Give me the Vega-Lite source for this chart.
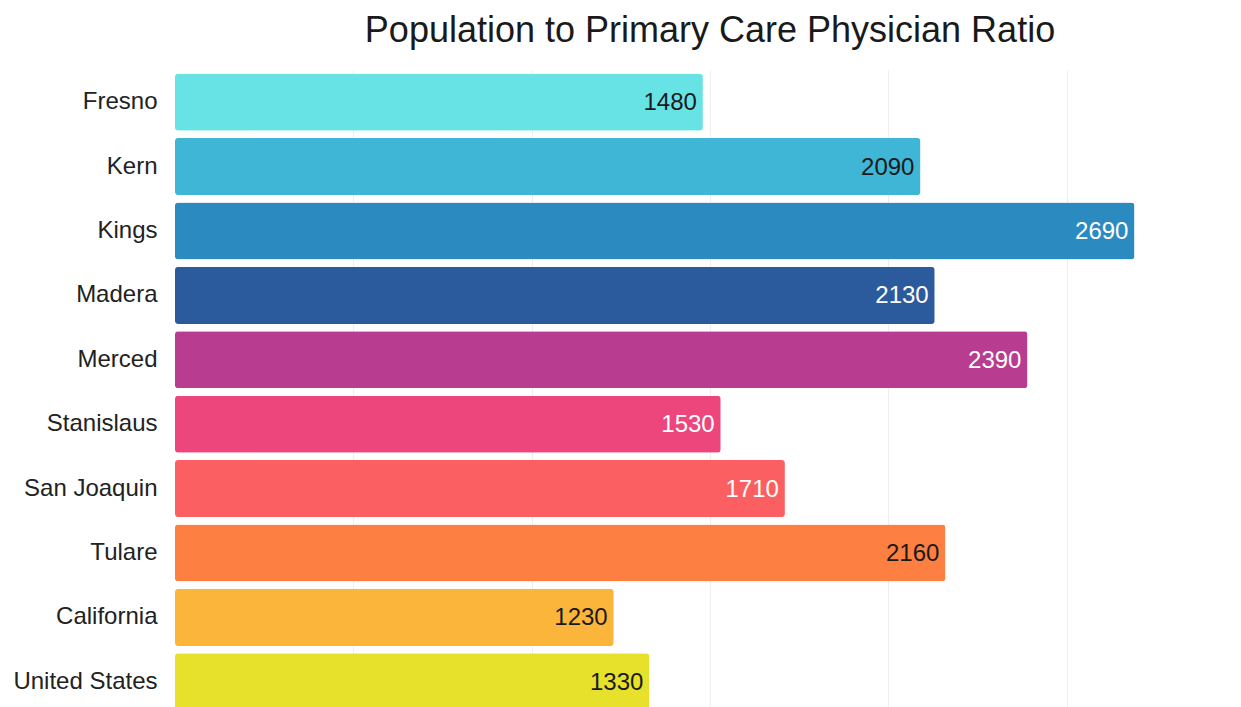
{
  "$schema": "https://vega.github.io/schema/vega-lite/v6.json",
  "width": 1070,
  "height": 644,
  "autosize": "none",
  "padding": {"left": 175, "top": 70, "right": 0, "bottom": 0},
  "background": "white",
  "title": {
    "text": "Population to Primary Care Physician Ratio",
    "fontSize": 36,
    "font": "Liberation Sans",
    "fontWeight": "normal",
    "color": "#1a1a1a",
    "anchor": "middle",
    "offset": 20
  },
  "data": {
    "values": [
      {"region": "Fresno", "ratio": 1480, "color": "#67e3e6", "text": "dark"},
      {"region": "Kern", "ratio": 2090, "color": "#3fb6d6", "text": "dark"},
      {"region": "Kings", "ratio": 2690, "color": "#2b8bc1", "text": "light"},
      {"region": "Madera", "ratio": 2130, "color": "#2c5b9d", "text": "light"},
      {"region": "Merced", "ratio": 2390, "color": "#b83d90", "text": "light"},
      {"region": "Stanislaus", "ratio": 1530, "color": "#ec467c", "text": "light"},
      {"region": "San Joaquin", "ratio": 1710, "color": "#fb5f61", "text": "light"},
      {"region": "Tulare", "ratio": 2160, "color": "#fd7f41", "text": "dark"},
      {"region": "California", "ratio": 1230, "color": "#fbb53b", "text": "dark"},
      {"region": "United States", "ratio": 1330, "color": "#e7e12c", "text": "dark"}
    ]
  },
  "encoding": {
    "y": {
      "field": "region",
      "type": "nominal",
      "sort": null,
      "scale": {"paddingInner": 0.115, "paddingOuter": 0.0575},
      "axis": {
        "title": null,
        "domain": false,
        "ticks": false,
        "labelPadding": 18,
        "labelFont": "Liberation Sans",
        "labelFontSize": 24,
        "labelColor": "#222222",
        "labelLimit": 250,
        "grid": false
      }
    },
    "x": {
      "field": "ratio",
      "type": "quantitative",
      "scale": {"domain": [0, 3000], "nice": false},
      "axis": {
        "title": null,
        "labels": false,
        "ticks": false,
        "domain": false,
        "values": [500, 1000, 1500, 2000, 2500],
        "grid": true,
        "gridColor": "#eeeeee",
        "gridWidth": 1
      }
    }
  },
  "layer": [
    {
      "mark": {"type": "bar", "cornerRadius": 3},
      "encoding": {
        "color": {"field": "color", "type": "nominal", "scale": null}
      }
    },
    {
      "mark": {
        "type": "text",
        "align": "right",
        "baseline": "middle",
        "dx": -6,
        "dy": 1,
        "font": "Liberation Sans",
        "fontSize": 24
      },
      "encoding": {
        "text": {"field": "ratio", "type": "quantitative", "format": "d"},
        "color": {
          "field": "text",
          "type": "nominal",
          "scale": {"domain": ["dark", "light"], "range": ["#1a1a1a", "#ffffff"]},
          "legend": null
        }
      }
    }
  ],
  "config": {"view": {"stroke": null}}
}
